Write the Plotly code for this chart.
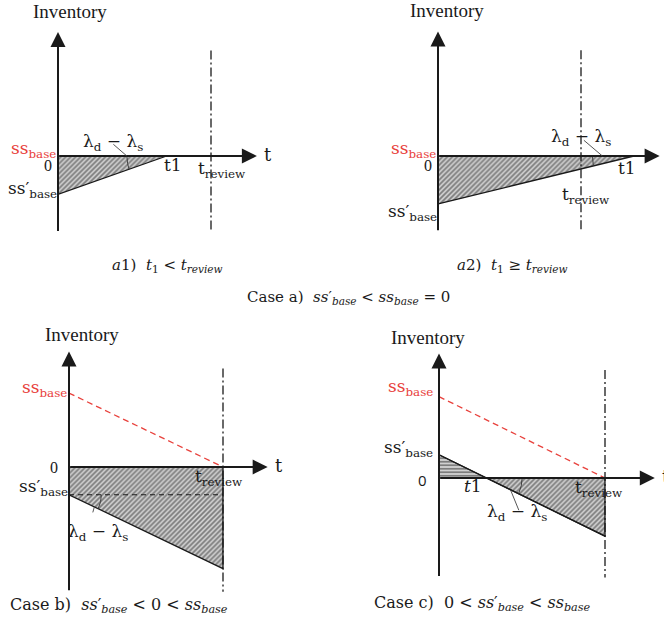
import numpy as np
import plotly.graph_objects as go

# ---------------- model values (time units / inventory units) ----------------
# Case a1: shortage recovered before the review (t1 < t_review)
a1_t_review = 10.0
a1_t1 = 7.1
a1_ss_base = 0.0
a1_ss_prime = -2.5

# Case a2: shortage lasts past the review (t1 >= t_review)
a2_t_review = 10.0
a2_t1 = 13.7
a2_ss_base = 0.0
a2_ss_prime = -3.35

# Case b: ss'_base < 0 < ss_base
b_t_review = 10.0
b_ss_base = 4.8
b_ss_prime = -1.8
b_rate = 0.48  # lambda_d - lambda_s

# Case c: 0 < ss'_base < ss_base
c_t_review = 10.0
c_ss_base = 4.9
c_ss_prime = 1.4
c_rate = 0.49  # lambda_d - lambda_s

# axis extents per panel: [t max, inventory min, inventory max, review line top]
a1_extent = [13.0, -5.0, 8.1, 6.9]
a2_extent = [15.5, -5.3, 8.7, 7.4]
b_extent = [12.9, -8.1, 7.5, 6.4]
c_extent = [13.0, -6.0, 7.5, 6.5]

# ---------------- page geometry ----------------
W, H = 664, 617
RED = "#e8413c"
INK = "#1a1a1a"
SERIF = "Liberation Serif, DejaVu Serif, serif"
MATH = "DejaVu Serif, Liberation Serif, serif"

fig = go.Figure()
layout_axes = {}


def ref(n, axis):
    return axis if n == 1 else f"{axis}{n}"


def setup_axes(n, box, origin, scale):
    """Place subplot n on the pixel box with equal scale on both axes."""
    px0, py0, px1, py1 = box
    ox, oy = origin
    xa = dict(domain=[px0 / W, px1 / W], range=[(px0 - ox) / scale, (px1 - ox) / scale],
              visible=False, fixedrange=True, anchor=ref(n, "y"))
    ya = dict(domain=[1 - py1 / H, 1 - py0 / H], range=[(oy - py1) / scale, (oy - py0) / scale],
              visible=False, fixedrange=True, anchor=ref(n, "x"))
    layout_axes["xaxis" if n == 1 else f"xaxis{n}"] = xa
    layout_axes["yaxis" if n == 1 else f"yaxis{n}"] = ya


def line(n, xs, ys, color=INK, width=1.3, dash="solid"):
    fig.add_trace(go.Scatter(x=xs, y=ys, mode="lines", xaxis=ref(n, "x"), yaxis=ref(n, "y"),
                             line=dict(color=color, width=width, dash=dash),
                             hoverinfo="skip", showlegend=False))


def hatch(n, xs, ys, shape="/"):
    fig.add_trace(go.Scatter(x=xs, y=ys, mode="lines", fill="toself", xaxis=ref(n, "x"),
                             yaxis=ref(n, "y"), line=dict(color=INK, width=1.3),
                             fillcolor="#cccccc",
                             fillpattern=dict(shape=shape, size=3.5, solidity=0.5,
                                              fgcolor="#2a2a2a", bgcolor="#d0d0d0"),
                             hoverinfo="skip", showlegend=False))


annotations = []


def text(n, x, y, s, size=17, color=INK, font=MATH, xanchor="center", yanchor="middle",
         xshift=0, yshift=0):
    annotations.append(dict(x=x, y=y, xref=ref(n, "x"), yref=ref(n, "y"), text=s,
                            showarrow=False, xanchor=xanchor, yanchor=yanchor,
                            xshift=xshift, yshift=yshift,
                            font=dict(size=size, color=color, family=font)))


def arrow(n, x0, y0, x1, y1):
    annotations.append(dict(x=x1, y=y1, ax=x0, ay=y0, xref=ref(n, "x"), yref=ref(n, "y"),
                            axref=ref(n, "x"), ayref=ref(n, "y"), text="", showarrow=True,
                            arrowhead=2, arrowsize=1.5, arrowwidth=2, arrowcolor=INK,
                            standoff=0, startstandoff=0))


def leader(n, x, y, dx, dy):
    annotations.append(dict(x=x, y=y, xref=ref(n, "x"), yref=ref(n, "y"), text="",
                            showarrow=True, arrowhead=0, arrowwidth=0.9, arrowcolor="#444",
                            ax=dx, ay=dy, standoff=0))


def arc(n, cx, cy, r, th0, th1):
    th = np.linspace(th0, th1, 24)
    line(n, cx + r * np.cos(th), cy + r * np.sin(th), color="#333", width=0.9)


def paper_text(px, py, s, size=15, xanchor="center", font=MATH):
    annotations.append(dict(x=px / W, y=1 - py / H, xref="paper", yref="paper", text=s,
                            showarrow=False, xanchor=xanchor, yanchor="middle",
                            font=dict(size=size, color=INK, family=font)))


def frame(n, extent, t_review, inv_label_shift):
    t_max, inv_min, inv_max, review_top = extent
    line(n, [t_review, t_review], [review_top, inv_min], width=1.3, dash="9px,3px,2px,3px")
    arrow(n, 0, 0, t_max, 0)
    arrow(n, 0, inv_min, 0, inv_max)
    text(n, 0, inv_max, "Inventory", size=19, font=SERIF, xshift=inv_label_shift[0],
         yshift=inv_label_shift[1])
    text(n, t_max, 0, "t", size=18, xanchor="left", xshift=5, yshift=2)


SS_BASE = "ss<sub>base</sub>"
SS_PRIME = "ss′<sub>base</sub>"
T_REVIEW = "t<sub>review</sub>"
LAMBDA = "λ<sub>d</sub> − λ<sub>s</sub>"
CAP_SS_PRIME = "<i>ss</i>′<sub><i>base</i></sub>"
CAP_SS_BASE = "<i>ss<sub>base</sub></i>"

# ---------------- panel a1 ----------------
setup_axes(1, (0, 0, 332, 300), (58, 156), 15.3)
hatch(1, [0, a1_t1, 0, 0], [a1_ss_base, a1_ss_base, a1_ss_prime, a1_ss_base])
frame(1, a1_extent, a1_t_review, (12, 21))
r1 = 2.6
th_end = np.arctan2(a1_ss_prime - a1_ss_base, -a1_t1) + 2 * np.pi
arc(1, a1_t1, a1_ss_base, r1, np.pi, th_end)
ax1, ay1 = a1_t1 - r1, a1_ss_base
leader(1, ax1, ay1, -15, -13)
text(1, ax1, ay1, LAMBDA, xshift=-14, yshift=14)
text(1, 0, a1_ss_base, SS_BASE, color=RED, xanchor="right", xshift=0, yshift=7)
text(1, 0, a1_ss_base, "0", font=SERIF, size=16, xanchor="right", xshift=-4, yshift=-9)
text(1, 0, a1_ss_prime, SS_PRIME, xanchor="right", xshift=1, yshift=5)
text(1, a1_t1, 0, "t1", xshift=6, yshift=-9)
text(1, a1_t_review, 0, T_REVIEW, xshift=11, yshift=-13)
paper_text(167, 265, "<i>a</i>1)  <i>t</i><sub>1</sub> < <i>t<sub>review</sub></i>")

# ---------------- panel a2 ----------------
setup_axes(2, (332, 0, 664, 300), (438, 156), 14.3)
hatch(2, [0, a2_t1, 0, 0], [a2_ss_base, a2_ss_base, a2_ss_prime, a2_ss_base])
frame(2, a2_extent, a2_t_review, (9, 21))
r2 = 2.9
th_end = np.arctan2(a2_ss_prime - a2_ss_base, -a2_t1) + 2 * np.pi
arc(2, a2_t1, a2_ss_base, r2, np.pi, th_end)
ax2, ay2 = a2_t1 - 0.76 * r2, a2_ss_base
leader(2, ax2, ay2, -20, -17)
text(2, ax2, ay2, LAMBDA, xshift=-21, yshift=19)
text(2, 0, a2_ss_base, SS_BASE, color=RED, xanchor="right", xshift=0, yshift=7)
text(2, 0, a2_ss_base, "0", font=SERIF, size=16, xanchor="right", xshift=-4, yshift=-9)
text(2, 0, a2_ss_prime, SS_PRIME, xanchor="right", xshift=1, yshift=-9)
text(2, a2_t1, 0, "t1", xshift=-7, yshift=-12)
text(2, a2_t_review, 0, T_REVIEW, xshift=5, yshift=-39)
paper_text(512, 265, "<i>a</i>2)  <i>t</i><sub>1</sub> ≥ <i>t<sub>review</sub></i>")

paper_text(348, 297, "Case a)  " + CAP_SS_PRIME + " < " + CAP_SS_BASE + " = 0")

# ---------------- panel b ----------------
setup_axes(3, (0, 320, 332, 617), (69, 467), 15.4)
b_end = b_ss_prime - b_rate * b_t_review
hatch(3, [0, b_t_review, b_t_review, 0, 0], [0, 0, b_end, b_ss_prime, 0])
line(3, [0, b_t_review], [b_ss_prime, b_ss_prime], width=1.1, dash="5px,4px")
line(3, [0, b_t_review], [b_ss_base, b_ss_base - b_rate * b_t_review], color=RED,
     width=1.3, dash="6px,4px")
frame(3, b_extent, b_t_review, (13, 17))
r3 = 2.1
th_b = -np.arctan(b_rate)
arc(3, 0, b_ss_prime, r3, 0, th_b)
ax3, ay3 = 0.87 * r3 * np.cos(th_b), b_ss_prime + 0.87 * r3 * np.sin(th_b)
leader(3, ax3, ay3, -2, 7)
text(3, ax3, ay3, LAMBDA, xshift=4, yshift=-26)
text(3, 0, b_ss_base, SS_BASE, color=RED, xanchor="right", xshift=0, yshift=5)
text(3, 0, 0, "0", font=SERIF, size=16, xanchor="right", xshift=-9, yshift=0)
text(3, 0, b_ss_prime, SS_PRIME, xanchor="right", xshift=1, yshift=7)
text(3, b_t_review, 0, T_REVIEW, xshift=-4, yshift=-10)
paper_text(8, 605, "Case b)  " + CAP_SS_PRIME + " < 0 < " + CAP_SS_BASE,
           size=16, xanchor="left")

# ---------------- panel c ----------------
setup_axes(4, (332, 320, 664, 617), (439, 478), 16.6)
c_t1 = c_ss_prime / c_rate
c_end = c_ss_prime - c_rate * c_t_review
hatch(4, [0, 0, c_t1, 0], [0, c_ss_prime, 0, 0], shape="-")
hatch(4, [c_t1, c_t_review, c_t_review, c_t1], [0, 0, c_end, 0])
line(4, [0, c_t_review], [c_ss_prime, c_end], width=1.3)
line(4, [0, c_t_review], [c_ss_base, c_ss_base - c_rate * c_t_review], color=RED,
     width=1.3, dash="6px,4px")
frame(4, c_extent, c_t_review, (-11, 16))
r4 = 2.15
th_c = -np.arctan(c_rate)
arc(4, c_t1, 0, r4, 0, th_c)
ax4, ay4 = c_t1 + 0.75 * r4 * np.cos(th_c), 0.75 * r4 * np.sin(th_c)
leader(4, ax4, ay4, 9, 22)
text(4, ax4, ay4, LAMBDA, xshift=7, yshift=-23)
text(4, 0, c_ss_base, SS_BASE, color=RED, xanchor="right", xshift=-4, yshift=9)
text(4, 0, c_ss_prime, SS_PRIME, xanchor="right", xshift=-4, yshift=6)
text(4, 0, 0, "0", font="Open Sans, sans-serif", size=15, xanchor="right", xshift=-10,
     yshift=-2)
text(4, c_t1, 0, "<i>t</i>1", xshift=-13, yshift=-8)
text(4, c_t_review, 0, T_REVIEW, xshift=-6, yshift=-10)
paper_text(372, 603, "Case c)  0 < " + CAP_SS_PRIME + " < " + CAP_SS_BASE,
           size=16, xanchor="left")

fig.update_layout(width=W, height=H, margin=dict(l=0, r=0, t=0, b=0),
                  paper_bgcolor="white", plot_bgcolor="rgba(0,0,0,0)",
                  showlegend=False, annotations=annotations, **layout_axes)

fig.write_html("out.html")
